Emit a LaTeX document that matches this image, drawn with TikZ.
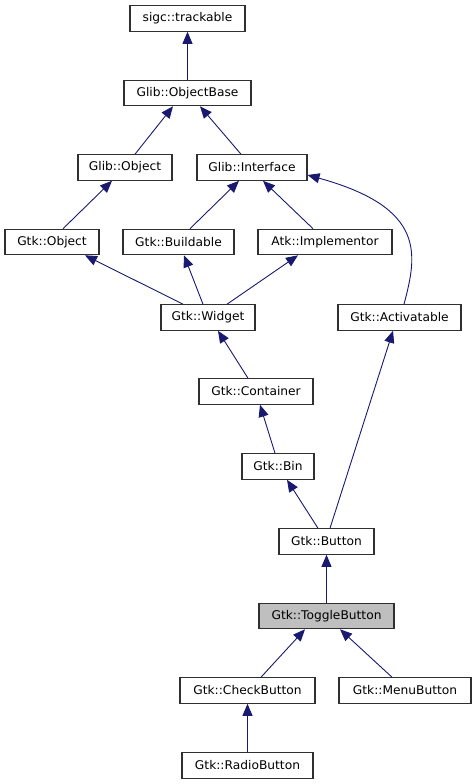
\documentclass[tikz,border=0pt]{standalone}
\usepackage{fontspec}
\setmainfont{DejaVu Sans}[FakeStretch=1.02]
\usetikzlibrary{arrows.meta}
\definecolor{edgeblue}{HTML}{191970}
\definecolor{boxline}{HTML}{303030}
\definecolor{hilite}{HTML}{BFBFBF}
\begin{document}
\begin{tikzpicture}[x=1pt,y=-1pt,
  cls/.style={draw=boxline,line width=1.1pt,fill=white,inner sep=0pt,minimum height=25.5pt,font=\fontsize{12}{14}\selectfont,anchor=center},
  arr/.style={draw=edgeblue,line width=0.9pt,-{Triangle[length=12pt,width=10pt]}}]
\useasboundingbox (0,0) rectangle (476,784);
\node[cls,minimum width=115pt] (st) at (187.5,18.5) {sigc::trackable};
\node[cls,minimum width=127pt] (ob) at (187.5,93) {Glib::ObjectBase};
\node[cls,minimum width=94pt] (gobj) at (125,167.5) {Glib::Object};
\node[cls,minimum width=110pt] (gi) at (252,167.5) {Glib::Interface};
\node[cls,minimum width=94pt] (gtkobj) at (52,242) {Gtk::Object};
\node[cls,minimum width=111pt] (bu) at (178.5,242) {Gtk::Buildable};
\node[cls,minimum width=134pt] (im) at (325,242) {Atk::Implementor};
\node[cls,minimum width=94pt] (wi) at (208,317.5) {Gtk::Widget};
\node[cls,minimum width=123pt] (ac) at (399.5,317.5) {Gtk::Activatable};
\node[cls,minimum width=114pt] (co) at (256,391.5) {Gtk::Container};
\node[cls,minimum width=72pt] (bi) at (278,466.5) {Gtk::Bin};
\node[cls,minimum width=95pt] (bt) at (326.5,541.5) {Gtk::Button};
\node[cls,minimum width=135pt,fill=hilite] (tb) at (326.5,616) {Gtk::ToggleButton};
\node[cls,minimum width=135pt] (cb) at (247.5,690.5) {Gtk::CheckButton};
\node[cls,minimum width=132pt] (mb) at (405,690.5) {Gtk::MenuButton};
\node[cls,minimum width=131pt] (rb) at (247.5,765.5) {Gtk::RadioButton};

\draw[arr] (ob.north) -- (st.south);
\draw[arr] ([xshift=10pt]gobj.north) -- ([xshift=-14.5pt]ob.south);
\draw[arr] ([xshift=-11pt]gi.north) -- ([xshift=12.5pt]ob.south);
\draw[arr] ([xshift=11pt]gtkobj.north) -- ([xshift=-13pt]gobj.south);
\draw[arr] ([xshift=11.5pt]bu.north) -- ([xshift=-13pt]gi.south);
\draw[arr] ([xshift=-12pt]im.north) -- ([xshift=11pt]gi.south);
\draw[arr] ([xshift=4.5pt]ac.north) .. controls (417,255) and (427,208) .. ([yshift=-7.5pt]gi.east);
\draw[arr] ([xshift=-25pt]wi.north) -- ([xshift=33pt]gtkobj.south);
\draw[arr] ([xshift=-5pt]wi.north) -- ([xshift=5.5pt]bu.south);
\draw[arr] ([xshift=19pt]wi.north) -- ([xshift=-27pt]im.south);
\draw[arr] ([xshift=-8pt]co.north) -- ([xshift=10pt]wi.south);
\draw[arr] ([xshift=-3pt]bi.north) -- ([xshift=4pt]co.south);
\draw[arr] ([xshift=-8.5pt]bt.north) -- ([xshift=9pt]bi.south);
\draw[arr] ([xshift=3.5pt]bt.north) -- ([xshift=-6.5pt]ac.south);
\draw[arr] (tb.north) -- (bt.south);
\draw[arr] ([xshift=13.5pt]cb.north) -- ([xshift=-21.5pt]tb.south);
\draw[arr] ([xshift=-13pt]mb.north) -- ([xshift=13.5pt]tb.south);
\draw[arr] (rb.north) -- (cb.south);
\end{tikzpicture}
\end{document}
